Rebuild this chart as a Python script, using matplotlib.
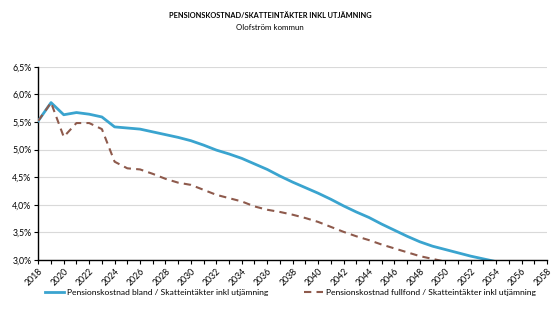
import matplotlib.pyplot as plt
import matplotlib.ticker as mticker
import numpy as np

plt.rcParams['font.family'] = ['Lato', 'DejaVu Sans']

years = list(range(2018, 2055))
# Pensionskostnad bland / Skatteintäkter inkl utjämning (%)
bland = [5.52, 5.85, 5.63, 5.67, 5.64, 5.59, 5.41, 5.39, 5.37, 5.32,
         5.27, 5.22, 5.16, 5.08, 4.99, 4.92, 4.84, 4.74, 4.64, 4.52,
         4.41, 4.31, 4.21, 4.10, 3.98, 3.87, 3.77, 3.65, 3.54, 3.43,
         3.33, 3.25, 3.19, 3.13, 3.07, 3.02, 2.97]
# Pensionskostnad fullfond / Skatteintäkter inkl utjämning (%)
fullfond = [5.52, 5.85, 5.23, 5.48, 5.48, 5.37, 4.78, 4.66, 4.64, 4.56,
            4.47, 4.40, 4.36, 4.27, 4.18, 4.12, 4.06, 3.97, 3.91, 3.87,
            3.82, 3.76, 3.69, 3.60, 3.51, 3.43, 3.36, 3.28, 3.21, 3.14,
            3.07, 3.02, 2.97, 2.92, 2.88, 2.84, 2.80]

lbl_bland = "Pensionskostnad bland / Skatteintäkter inkl utjämning"
lbl_full = "Pensionskostnad fullfond / Skatteintäkter inkl utjämning"

fig = plt.figure(figsize=(5.56, 3.16), dpi=100)
ax = fig.add_axes([38.3/556, 1-260/316, (547-38.3)/556, (260-66.7)/316])

ax.plot(years, bland, color='#3AA4CF', lw=2.0, label=lbl_bland, zorder=3)
ax.plot(years, fullfond, color='#8E5A4C', lw=1.5, ls=(0, (3.5, 2.5)), label=lbl_full, zorder=3)

ax.set_xlim(2018, 2058)
ax.set_ylim(3.0, 6.5)
ax.set_xticks(range(2018, 2059, 2))
ax.set_xticks(range(2018, 2059, 1), minor=True)
ax.set_yticks(np.arange(3.0, 6.51, 0.5))
ax.yaxis.set_major_formatter(mticker.FuncFormatter(lambda v, p: f"{v:.1f}%".replace('.', ',')))
for lab in ax.get_xticklabels():
    lab.set_rotation(45)
    lab.set_ha('right')
    lab.set_rotation_mode('anchor')
ax.tick_params(axis='both', labelsize=6.3, length=3, width=0.8, color='black', pad=2)
ax.tick_params(axis='x', which='minor', length=3, width=0.8)
ax.grid(axis='y', color='#D9D9D9', lw=0.8)
ax.set_axisbelow(True)
for s in ['top', 'right']:
    ax.spines[s].set_visible(False)
for s in ['left', 'bottom']:
    ax.spines[s].set_linewidth(1.0)
    ax.spines[s].set_color('black')
ax.spines['bottom'].set_zorder(4)

fig.text(0.486, 1-16/316, "PENSIONSKOSTNAD/SKATTEINTÄKTER INKL UTJÄMNING",
         ha='center', va='center', fontsize=5.3, fontweight='bold')
fig.text(0.486, 1-27/316, "Olofström kommun", ha='center', va='center', fontsize=5.7)

fig.legend(loc='center', bbox_to_anchor=(0.522, 1-292/316), ncol=2, frameon=False,
           fontsize=6.1, handlelength=2.3, handletextpad=0.3, columnspacing=4.2)

fig.savefig('out.png', dpi=100)
